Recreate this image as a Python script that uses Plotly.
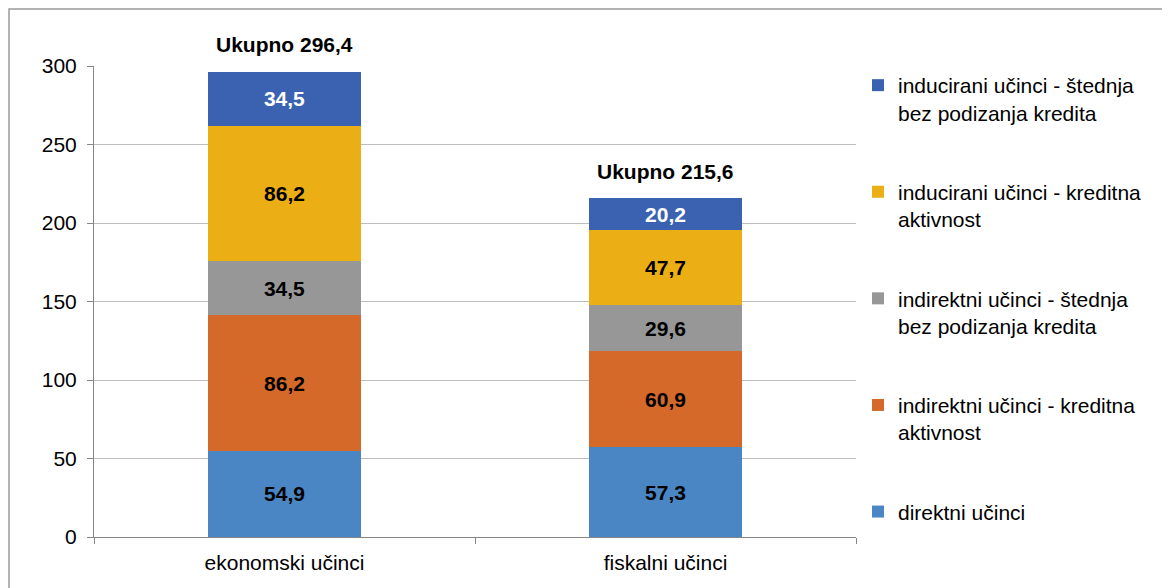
import plotly.graph_objects as go

categories = ["ekonomski učinci", "fiskalni učinci"]
series_names = [
    "direktni učinci",
    "indirektni učinci - kreditna<br>aktivnost",
    "indirektni učinci - štednja<br>bez podizanja kredita",
    "inducirani učinci - kreditna<br>aktivnost",
    "inducirani učinci - štednja<br>bez podizanja kredita",
]
direktni = [54.9, 57.3]
indirektni_kredit = [86.2, 60.9]
indirektni_stednja = [34.5, 29.6]
inducirani_kredit = [86.2, 47.7]
inducirani_stednja = [34.5, 20.2]
totals = [296.4, 215.6]

series_values = [direktni, indirektni_kredit, indirektni_stednja, inducirani_kredit, inducirani_stednja]
colors = ["#4A86C4", "#D5692A", "#979797", "#EBAE14", "#3A62B0"]
label_colors = ["black", "black", "black", "black", "white"]

FONT = "Liberation Sans, Arial, sans-serif"

fig = go.Figure()
n = len(series_names)
for i, (name, vals) in enumerate(zip(series_names, series_values)):
    fig.add_trace(go.Bar(
        x=categories, y=vals, name=name,
        marker=dict(color=colors[i], line=dict(width=0)),
        width=0.4,
        texttemplate="<b>%{y:.1f}</b>",
        textposition="inside",
        insidetextanchor="middle",
        textangle=0,
        constraintext="none",
        textfont=dict(family=FONT, size=21, color=label_colors[i]),
        legendgroup=f"g{i}",
        legendrank=100 * (n - i),
        hoverinfo="skip",
    ))

for cat, tot in zip(categories, totals):
    fig.add_annotation(
        x=cat, y=tot, yshift=27, showarrow=False,
        text="<b>Ukupno " + f"{tot:.1f}".replace(".", ",") + "</b>",
        font=dict(family=FONT, size=21, color="black"),
    )

# page body has an 8px margin, compensate
L, R, T, B = 86, 322, 58, 59
PW, PH = 1170 - L - R, 588 - T - B

fig.add_shape(
    type="rect", xref="paper", yref="paper",
    x0=(1 - L) / PW, x1=(1200 - L) / PW,
    y0=-(B + 50) / PH, y1=1 + (T - 1) / PH,
    line=dict(color="#9A9A9A", width=1.5), fillcolor="rgba(0,0,0,0)",
    layer="below",
)

fig.update_layout(
    width=1170, height=588,
    margin=dict(l=L, r=R, t=T, b=B),
    barmode="stack",
    bargap=0.6,
    separators=", ",
    paper_bgcolor="white", plot_bgcolor="white",
    font=dict(family=FONT, size=21, color="black"),
    showlegend=True,
    legend=dict(
        traceorder="grouped",
        x=(850 - L) / PW, xanchor="left",
        y=1 + (T - 57) / PH, yanchor="top",
        font=dict(family=FONT, size=21, color="black"),
        tracegroupgap=49,
        valign="top",
        itemwidth=30,
        maxheight=700,
        bgcolor="rgba(0,0,0,0)",
    ),
    xaxis=dict(
        showline=True, linecolor="#868686", linewidth=1,
        ticks="outside", tickson="boundaries", ticklen=6, tickcolor="#868686",
        showgrid=False, tickfont=dict(family=FONT, size=21),
        ticklabelstandoff=7,
        range=[-0.5, 1.5],
    ),
    yaxis=dict(
        range=[0, 300], dtick=50,
        showline=True, linecolor="#868686", linewidth=1,
        ticks="outside", ticklen=6, tickcolor="#868686",
        showgrid=True, gridcolor="#BDBDBD", gridwidth=1,
        zeroline=False,
        ticklabelstandoff=6,
        tickfont=dict(family=FONT, size=21),
    ),
)

fig.write_html("out.html")
